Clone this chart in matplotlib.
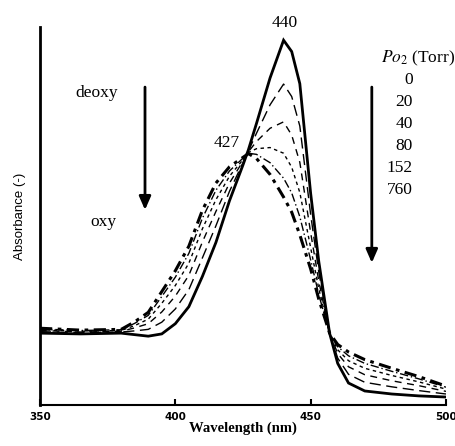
import matplotlib
matplotlib.use('Agg')
import matplotlib.pyplot as plt

# Wavelength grid (nm) and absorbance (arbitrary units)
wavelength = [350, 365, 380, 385, 390, 395, 400, 405, 410, 415, 420, 425, 427, 430,
              435, 440, 443, 446, 450, 453, 457, 460, 464, 470, 480, 490, 500]
abs_0 = [0.190, 0.188, 0.190, 0.186, 0.182, 0.188, 0.215, 0.260, 0.340, 0.430, 0.540, 0.635, 0.675, 0.745,
         0.865, 0.965, 0.935, 0.850, 0.560, 0.380, 0.190, 0.110, 0.058, 0.037, 0.029, 0.024, 0.021]
abs_20 = [0.194, 0.191, 0.193, 0.196, 0.200, 0.219, 0.254, 0.305, 0.389, 0.474, 0.565, 0.641, 0.672, 0.719,
          0.794, 0.849, 0.816, 0.738, 0.504, 0.352, 0.190, 0.124, 0.081, 0.060, 0.048, 0.038, 0.029]
abs_40 = [0.197, 0.193, 0.195, 0.204, 0.215, 0.246, 0.288, 0.343, 0.431, 0.512, 0.587, 0.645, 0.670, 0.697,
          0.732, 0.749, 0.714, 0.642, 0.456, 0.328, 0.190, 0.136, 0.101, 0.080, 0.064, 0.051, 0.036]
abs_80 = [0.199, 0.195, 0.197, 0.210, 0.227, 0.269, 0.316, 0.375, 0.466, 0.543, 0.605, 0.649, 0.668, 0.678,
          0.681, 0.666, 0.629, 0.562, 0.416, 0.308, 0.190, 0.146, 0.117, 0.097, 0.078, 0.061, 0.042]
abs_152 = [0.201, 0.197, 0.199, 0.216, 0.237, 0.287, 0.338, 0.401, 0.494, 0.568, 0.619, 0.653, 0.666, 0.663,
           0.641, 0.600, 0.561, 0.498, 0.384, 0.292, 0.190, 0.154, 0.130, 0.110, 0.089, 0.069, 0.047]
abs_760 = [0.203, 0.198, 0.200, 0.220, 0.245, 0.300, 0.355, 0.420, 0.515, 0.587, 0.630, 0.655, 0.665, 0.652,
           0.610, 0.550, 0.510, 0.450, 0.360, 0.280, 0.190, 0.160, 0.140, 0.120, 0.097, 0.075, 0.050]

pressures = ['0', '20', '40', '80', '152', '760']
xticks = [350, 400, 450, 500]

serif = 'Liberation Serif'
fs = 12.5

fig = plt.figure(figsize=(4.56, 4.46), dpi=100)
ax = fig.add_axes([0.0877, 0.092, 0.8903, 0.8475])

# Spectra, one style per O2 pressure
ax.plot(wavelength, abs_0, color='black', lw=2.0, solid_joinstyle='miter')
ax.plot(wavelength, abs_20, color='black', lw=1.0, dashes=(8, 4))
ax.plot(wavelength, abs_40, color='black', lw=1.0, dashes=(5, 4))
ax.plot(wavelength, abs_80, color='black', lw=1.0, dashes=(2.5, 2.5))
ax.plot(wavelength, abs_152, color='black', lw=1.0, dashes=(6, 2, 1, 2))
ax.plot(wavelength, abs_760, color='black', lw=2.2, dashes=(4, 1.8, 1.2, 1.8))

ax.set_xlim(350, 500)
ax.set_ylim(0, 1)
ax.spines['top'].set_visible(False)
ax.spines['right'].set_visible(False)
ax.spines['left'].set_linewidth(2.0)
ax.spines['bottom'].set_linewidth(1.5)
ax.set_yticks([])
ax.set_xticks(xticks)
ax.set_xticklabels([str(t) for t in xticks], fontsize=7.5, fontweight='bold', family='DejaVu Sans')
ax.tick_params(axis='x', direction='in', length=4, width=1.5, pad=5)

ax.set_xlabel('Wavelength (nm)', fontsize=10.5, fontweight='bold', family=serif, labelpad=0)
ax.set_ylabel('Absorbance (-)', fontsize=9.5, family='Liberation Sans', labelpad=10)

# Peak labels
ax.text(440.5, 1.01, '440', fontsize=fs, family=serif, ha='center', va='center', clip_on=False)
ax.text(419, 0.693, '427', fontsize=fs, family=serif, ha='center', va='center')

# deoxy -> oxy arrow
ax.text(371, 0.825, 'deoxy', fontsize=fs, family=serif, ha='center', va='center')
ax.text(373.3, 0.484, 'oxy', fontsize=fs, family=serif, ha='center', va='center')
arrow_kw = dict(arrowstyle='-|>,head_width=0.35,head_length=0.8', color='black', lw=2.0,
                shrinkA=0, shrinkB=0)
ax.annotate('', xy=(388.8, 0.516), xytext=(388.8, 0.841), arrowprops=arrow_kw)
ax.annotate('', xy=(472.6, 0.376), xytext=(472.6, 0.841), arrowprops=arrow_kw)

# Pressure list
ax.text(503.4, 0.918, r'$\mathit{Po}_{2}$ (Torr)', fontsize=fs, family=serif,
        ha='right', va='center', clip_on=False, math_fontfamily='stix')
for i, p in enumerate(pressures):
    ax.text(487.8, 0.860 - i * 0.0582, p, fontsize=fs, family=serif, ha='right', va='center')

fig.savefig('out.png', dpi=100)
